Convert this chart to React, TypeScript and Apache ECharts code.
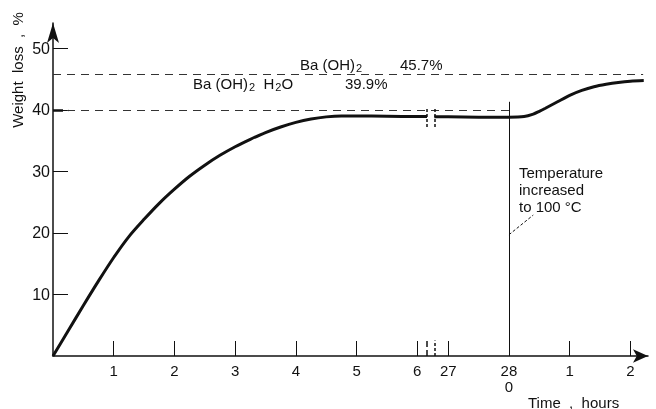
import React, { useEffect, useRef } from 'react';
import * as echarts from 'echarts';

// Phase 1: first hours of drying (time in hours)
const phase1Hours = [0, 0.25, 0.5, 0.75, 1.0, 1.25, 1.5, 1.75, 2.0, 2.25, 2.5, 2.75, 3.0, 3.25, 3.5, 3.75, 4.0, 4.25, 4.5, 4.75, 5.0, 5.5, 6.0, 6.16];
const phase1Loss = [0, 4.1, 8.2, 12.2, 16.0, 19.4, 22.2, 24.8, 27.1, 29.2, 31.0, 32.6, 34.0, 35.2, 36.3, 37.2, 37.95, 38.5, 38.85, 39.0, 39.0, 38.95, 38.9, 38.9];
// Phase 2: after the axis break, 27 - 28 hours
const phase2Hours = [26.77, 27, 27.5, 28];
const phase2Loss = [38.85, 38.85, 38.8, 38.8];
// Phase 3: hours after temperature increased to 100 °C
const phase3Hours = [0, 0.25, 0.4, 0.5, 0.6, 0.8, 1.0, 1.2, 1.4, 1.6, 1.8, 2.0, 2.22];
const phase3Loss = [38.8, 38.9, 39.3, 39.75, 40.25, 41.3, 42.35, 43.15, 43.75, 44.15, 44.45, 44.65, 44.75];

const phase1Ticks = [1, 2, 3, 4, 5, 6];
const phase2Ticks = [27, 28];
const phase3Ticks = [1, 2];
const yTicks = [10, 20, 30, 40, 50];

const hydrateLoss = 39.9; // Ba(OH)2·H2O
const anhydrousLoss = 45.7; // Ba(OH)2

// axis mapping (break between 6 h and 27 h)
const POS27 = 6.51;
const POS28 = 7.51;
const toAxis1 = (t: number) => t;
const toAxis2 = (t: number) => t - 27 + POS27;
const toAxis3 = (h: number) => POS28 + h;

const FONT = '"Liberation Sans", Arial, sans-serif';
const INK = '#111';

export default function App() {
  const ref = useRef<HTMLDivElement>(null);
  useEffect(() => {
    if (!ref.current) return;
    const chart = echarts.init(ref.current, undefined, { renderer: 'svg' });

    const tickPos: number[] = [];
    const tickLab: string[] = [];
    phase1Ticks.forEach((t) => { tickPos.push(toAxis1(t)); tickLab.push(String(t)); });
    phase2Ticks.forEach((t) => { tickPos.push(toAxis2(t)); tickLab.push(t === 28 ? '28\n0' : String(t)); });
    phase3Ticks.forEach((h) => { tickPos.push(toAxis3(h)); tickLab.push(String(h)); });

    const d1 = phase1Hours.map((t, i) => [toAxis1(t), phase1Loss[i]]);
    const d2 = phase2Hours.map((t, i) => [toAxis2(t), phase2Loss[i]])
      .concat(phase3Hours.slice(1).map((h, i) => [toAxis3(h), phase3Loss[i + 1]]));

    const breakA = toAxis1(phase1Hours[phase1Hours.length - 1]);
    const breakB = toAxis2(phase2Hours[0]);

    const dash = { type: [8, 6] as any, width: 1, color: '#333' };
    const thin = { type: 'solid' as any, width: 1, color: INK };
    const brk = { type: [3, 2] as any, width: 1.5, color: INK };

    chart.setOption({
      animation: false,
      grid: { left: 53, right: 8, top: 23, bottom: 53 },
      xAxis: {
        type: 'value', min: 0, max: 9.8,
        axisLine: { show: true, symbol: ['none', 'arrow'], symbolSize: [10, 15], lineStyle: { color: INK, width: 1.5 } },
        axisTick: { show: true, inside: true, length: 15, customValues: tickPos, lineStyle: { color: INK, width: 1 } },
        axisLabel: {
          customValues: tickPos, margin: 6, color: INK, fontFamily: FONT, fontSize: 15, lineHeight: 16,
          formatter: (v: number) => {
            const i = tickPos.findIndex((p) => Math.abs(p - v) < 1e-6);
            return i >= 0 ? tickLab[i] : '';
          },
        },
        splitLine: { show: false },
      },
      yAxis: {
        type: 'value', min: 0, max: 54.1,
        axisLine: { show: true, symbol: ['none', 'arrow'], symbolSize: [9, 20], lineStyle: { color: INK, width: 1.5 } },
        axisTick: { show: true, inside: true, length: 15, customValues: yTicks, lineStyle: { color: INK, width: 1 } },
        axisLabel: { customValues: yTicks, margin: 3, color: INK, fontFamily: FONT, fontSize: 16 },
        splitLine: { show: false },
      },
      series: [
        {
          type: 'line', data: d1, symbol: 'none', smooth: 0.3,
          lineStyle: { color: INK, width: 3 }, z: 3,
          markLine: {
            silent: true, symbol: ['none', 'none'], label: { show: false },
            data: [
              [{ coord: [0, anhydrousLoss], lineStyle: dash }, { coord: [9.72, anhydrousLoss] }],
              [{ coord: [0, hydrateLoss], lineStyle: dash }, { coord: [POS28, hydrateLoss] }],
              [{ coord: [POS28, 0], lineStyle: thin }, { coord: [POS28, 41.3] }],
              [{ coord: [POS28, 19.7], lineStyle: { type: [3, 2] as any, width: 1, color: INK } }, { coord: [7.91, 22.9] }],
              [{ coord: [breakA, 0], lineStyle: { width: 1.5, color: INK } }, { coord: [breakA, 2.5] }],
              [{ coord: [breakB, 0], lineStyle: brk }, { coord: [breakB, 2.5] }],
              [{ coord: [breakA, 37.2], lineStyle: brk }, { coord: [breakA, 40.3] }],
              [{ coord: [breakB, 37.2], lineStyle: brk }, { coord: [breakB, 40.3] }],
              [{ coord: [0, 40], lineStyle: { width: 2.5, color: INK } }, { coord: [0.25, 40] }],
            ],
          },
        },
        {
          type: 'line', data: d2, symbol: 'none', smooth: 0.3,
          lineStyle: { color: INK, width: 3 }, z: 3,
        },
      ],
      graphic: [
        {
          type: 'text', x: 17, y: 70, rotation: Math.PI / 2,
          style: { text: 'Weight  loss  ,  %', fontFamily: FONT, fontSize: 15, fill: INK, align: 'center', verticalAlign: 'middle' },
        },
        {
          type: 'text', x: 528, y: 402,
          style: { text: 'Time  ,  hours', fontFamily: FONT, fontSize: 15, fill: INK, align: 'left', verticalAlign: 'middle' },
        },
        {
          type: 'text', x: 300, y: 64,
          style: {
            text: '{a|Ba (OH)}{s|2}', fill: INK, verticalAlign: 'middle',
            rich: {
              a: { fontFamily: FONT, fontSize: 15, lineHeight: 20, fill: INK },
              s: { fontFamily: FONT, fontSize: 11, lineHeight: 20, padding: [8, 0, 0, 1], fill: INK },
            },
          },
        },
        {
          type: 'text', x: 400, y: 64,
          style: { text: '45.7%', fontFamily: FONT, fontSize: 15, fill: INK, verticalAlign: 'middle' },
        },
        {
          type: 'text', x: 193, y: 83,
          style: {
            text: '{a|Ba (OH)}{s|2}{a|  H}{s|2}{a|O}', fill: INK, verticalAlign: 'middle',
            rich: {
              a: { fontFamily: FONT, fontSize: 15, lineHeight: 20, fill: INK },
              s: { fontFamily: FONT, fontSize: 11, lineHeight: 20, padding: [8, 0, 0, 1], fill: INK },
            },
          },
        },
        {
          type: 'text', x: 345, y: 83,
          style: { text: '39.9%', fontFamily: FONT, fontSize: 15, fill: INK, verticalAlign: 'middle' },
        },
        {
          type: 'text', x: 519, y: 164,
          style: { text: 'Temperature\nincreased\nto 100 °C', fontFamily: FONT, fontSize: 15, lineHeight: 17, fill: INK, verticalAlign: 'top' },
        },
      ],
    });
    return () => chart.dispose();
  }, []);
  return <div ref={ref} style={{ position: 'fixed', left: 0, top: 0, width: 656, height: 409 }} />;
}
